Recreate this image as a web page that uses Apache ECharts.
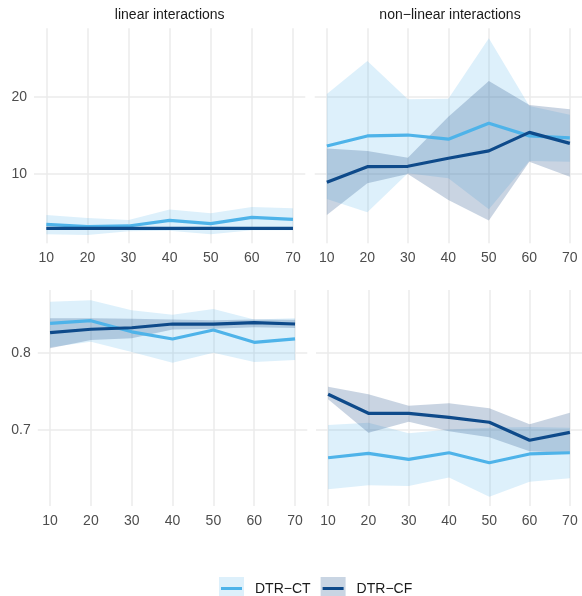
<!DOCTYPE html>
<html>
<head>
<meta charset="utf-8">
<script src="https://cdn.jsdelivr.net/npm/echarts@6/dist/echarts.min.js"></script>
<style>html,body{margin:0;padding:0;background:#fff;}#c{width:582px;height:596px;}</style>
</head>
<body>
<div id="c"></div>
<script>
// ---- data ----
const xVals = [10, 20, 30, 40, 50, 60, 70];
const xTicks = [10, 20, 30, 40, 50, 60, 70];
const yTicksTop = [10, 20];
const yTicksBottom = [0.7, 0.8];
const stripTitles = ['linear interactions', 'non\u2212linear interactions'];
const seriesNames = ['DTR\u2212CT', 'DTR\u2212CF'];

// top-left: linear interactions
const ctLinTop   = [3.45, 3.16, 3.25, 3.98, 3.55, 4.36, 4.10];
const ctLinTopLo = [2.17, 2.08, 2.55, 2.62, 2.19, 2.70, 2.70];
const ctLinTopHi = [4.68, 4.30, 4.03, 5.38, 4.90, 5.70, 5.56];
const cfLinTop   = [2.95, 2.95, 2.95, 2.93, 2.93, 2.93, 2.93];
const cfLinTopLo = [2.78, 2.80, 2.80, 2.80, 2.80, 2.80, 2.80];
const cfLinTopHi = [3.12, 3.10, 3.10, 3.08, 3.07, 3.07, 3.07];

// top-right: non-linear interactions
const ctNonTop   = [13.64, 14.94, 15.06, 14.52, 16.60, 14.95, 14.68];
const ctNonTopLo = [6.75, 5.02, 10.10, 9.44, 5.41, 11.70, 11.60];
const ctNonTopHi = [20.40, 24.68, 19.72, 19.76, 27.62, 18.83, 17.70];
const cfNonTop   = [8.92, 10.95, 11.00, 12.05, 13.00, 15.41, 13.98];
const cfNonTopLo = [4.68, 8.80, 10.00, 6.62, 3.96, 11.60, 9.65];
const cfNonTopHi = [13.30, 13.00, 12.12, 17.45, 22.08, 18.96, 18.42];

// bottom-left: linear interactions
const ctLinBot   = [0.8380, 0.8414, 0.8270, 0.8177, 0.8294, 0.8134, 0.8180];
const ctLinBotLo = [0.8070, 0.8140, 0.8010, 0.7870, 0.8000, 0.7880, 0.7905];
const ctLinBotHi = [0.8660, 0.8680, 0.8550, 0.8490, 0.8565, 0.8430, 0.8445];
const cfLinBot   = [0.8259, 0.8303, 0.8323, 0.8371, 0.8370, 0.8388, 0.8371];
const cfLinBotLo = [0.8057, 0.8164, 0.8186, 0.8300, 0.8310, 0.8330, 0.8320];
const cfLinBotHi = [0.8445, 0.8445, 0.8440, 0.8430, 0.8420, 0.8430, 0.8425];

// bottom-right: non-linear interactions
const ctNonBot   = [0.6641, 0.6698, 0.6620, 0.6706, 0.6577, 0.6690, 0.6706];
const ctNonBotLo = [0.6233, 0.6285, 0.6275, 0.6387, 0.6137, 0.6332, 0.6375];
const ctNonBotHi = [0.7065, 0.7094, 0.6957, 0.7006, 0.7028, 0.7040, 0.7028];
const cfNonBot   = [0.7462, 0.7216, 0.7216, 0.7164, 0.7100, 0.6867, 0.6970];
const cfNonBotLo = [0.7397, 0.6965, 0.7107, 0.6984, 0.6906, 0.6725, 0.6704];
const cfNonBotHi = [0.7560, 0.7462, 0.7315, 0.7345, 0.7280, 0.7073, 0.7224];

// ---- styling ----
const FONT = '"Liberation Sans", Arial, Helvetica, sans-serif';
const ctLine = '#4EB3E9';
const cfLine = '#0E4A8A';
const ctRibbon = 'rgba(86,180,233,0.2)';
const cfRibbon = 'rgba(40,85,140,0.25)';
const ctKey = '#DDF0FB';
const cfKey = '#C9D5E3';
const gridColor = '#EBEBEB';

const zip = ys => xVals.map((x, i) => [x, ys[i]]);

const panels = [
  {grid: {left: 34, top: 28.3, width: 271.3, height: 215}, yMin: 1.0, yMax: 28.92, yTicks: yTicksTop, showY: true,
   ct: ctLinTop, ctLo: ctLinTopLo, ctHi: ctLinTopHi, cf: cfLinTop, cfLo: cfLinTopLo, cfHi: cfLinTopHi},
  {grid: {left: 314.7, top: 28.3, width: 271, height: 215}, yMin: 1.0, yMax: 28.92, yTicks: yTicksTop, showY: false,
   ct: ctNonTop, ctLo: ctNonTopLo, ctHi: ctNonTopHi, cf: cfNonTop, cfLo: cfNonTopLo, cfHi: cfNonTopHi},
  {grid: {left: 37.8, top: 290, width: 269.5, height: 216}, yMin: 0.6017, yMax: 0.8811, yTicks: yTicksBottom, showY: true,
   ct: ctLinBot, ctLo: ctLinBotLo, ctHi: ctLinBotHi, cf: cfLinBot, cfLo: cfLinBotLo, cfHi: cfLinBotHi},
  {grid: {left: 316, top: 290, width: 269.5, height: 216}, yMin: 0.6017, yMax: 0.8811, yTicks: yTicksBottom, showY: false,
   ct: ctNonBot, ctLo: ctNonBotLo, ctHi: ctNonBotHi, cf: cfNonBot, cfLo: cfNonBotLo, cfHi: cfNonBotHi}
];

// ribbon drawn as one polygon through the axis scales (api.coord)
function ribbonSeries(i, lo, hi, color) {
  return {
    type: 'custom', xAxisIndex: i, yAxisIndex: i, silent: true, z: 2,
    data: [[xVals[0], lo[0]]],
    encode: {x: 0, y: 1},
    renderItem: function (params, api) {
      const pts = [];
      for (let k = 0; k < xVals.length; k++) pts.push(api.coord([xVals[k], hi[k]]));
      for (let k = xVals.length - 1; k >= 0; k--) pts.push(api.coord([xVals[k], lo[k]]));
      return {type: 'polygon', shape: {points: pts}, style: {fill: color, stroke: null}};
    }
  };
}

const grids = [], xAxes = [], yAxes = [], series = [];
panels.forEach((p, i) => {
  grids.push(Object.assign({containLabel: false}, p.grid));
  xAxes.push({
    type: 'value', gridIndex: i, min: 7, max: 73,
    axisLine: {show: false}, axisTick: {show: false}, splitLine: {show: false},
    axisLabel: {customValues: xTicks, color: '#4D4D4D', fontSize: 14, fontFamily: FONT, margin: 8,
      formatter: v => String(Math.round(v))}
  });
  yAxes.push({
    type: 'value', gridIndex: i, min: p.yMin, max: p.yMax,
    axisLine: {show: false}, axisTick: {show: false}, splitLine: {show: false},
    axisLabel: {show: p.showY, customValues: p.yTicks, color: '#4D4D4D', fontSize: 14, fontFamily: FONT, margin: 7,
      formatter: v => (p.yTicks === yTicksBottom ? v.toFixed(1) : String(Math.round(v)))}
  });
  // grid lines
  series.push({
    type: 'line', xAxisIndex: i, yAxisIndex: i, data: [], silent: true, z: 0,
    markLine: {
      silent: true, symbol: ['none', 'none'], z: 0, animation: false,
      label: {show: false},
      lineStyle: {color: gridColor, width: 1.5, type: 'solid'},
      emphasis: {disabled: true},
      data: xTicks.map(v => ({xAxis: v})).concat(p.yTicks.map(v => ({yAxis: v})))
    }
  });
  series.push(ribbonSeries(i, p.ctLo, p.ctHi, ctRibbon));
  series.push(ribbonSeries(i, p.cfLo, p.cfHi, cfRibbon));
  series.push({name: seriesNames[0], type: 'line', xAxisIndex: i, yAxisIndex: i, data: zip(p.ct), symbol: 'none',
    lineStyle: {color: ctLine, width: 3.2}, itemStyle: {color: ctLine}, z: 3, silent: true});
  series.push({name: seriesNames[1], type: 'line', xAxisIndex: i, yAxisIndex: i, data: zip(p.cf), symbol: 'none',
    lineStyle: {color: cfLine, width: 3.2}, itemStyle: {color: cfLine}, z: 3, silent: true});
});

const option = {
  animation: false,
  backgroundColor: '#ffffff',
  title: [
    {text: stripTitles[0], left: 169.7, top: 8.5, textAlign: 'center', padding: 0,
     textStyle: {fontSize: 14, fontWeight: 'normal', color: '#1A1A1A', fontFamily: FONT}},
    {text: stripTitles[1], left: 450, top: 8.5, textAlign: 'center', padding: 0,
     textStyle: {fontSize: 14, fontWeight: 'normal', color: '#1A1A1A', fontFamily: FONT}}
  ],
  legend: [
    {data: [{name: seriesNames[0], itemStyle: {color: ctKey}}, {name: seriesNames[1], itemStyle: {color: cfKey}}],
     left: 219, top: 577, padding: 0, orient: 'horizontal', icon: 'rect', itemWidth: 25, itemHeight: 25, itemGap: 10,
     selectedMode: false, itemStyle: {borderWidth: 0},
     textStyle: {fontSize: 14, color: '#1A1A1A', fontFamily: FONT, padding: [0, 0, 0, 6]}},
    {data: [{name: seriesNames[0], itemStyle: {color: ctLine}}, {name: seriesNames[1], itemStyle: {color: cfLine}}],
     left: 221, top: 581.5, padding: 0, orient: 'horizontal', icon: 'rect', itemWidth: 21, itemHeight: 3, itemGap: 12,
     selectedMode: false, itemStyle: {borderWidth: 0},
     textStyle: {fontSize: 14, color: 'rgba(0,0,0,0)', fontFamily: FONT, padding: [0, 0, 0, 8]}}
  ],
  grid: grids,
  xAxis: xAxes,
  yAxis: yAxes,
  series: series
};

const chart = echarts.init(document.getElementById('c'), null, {renderer: 'canvas'});
chart.setOption(option);
</script>
</body>
</html>
